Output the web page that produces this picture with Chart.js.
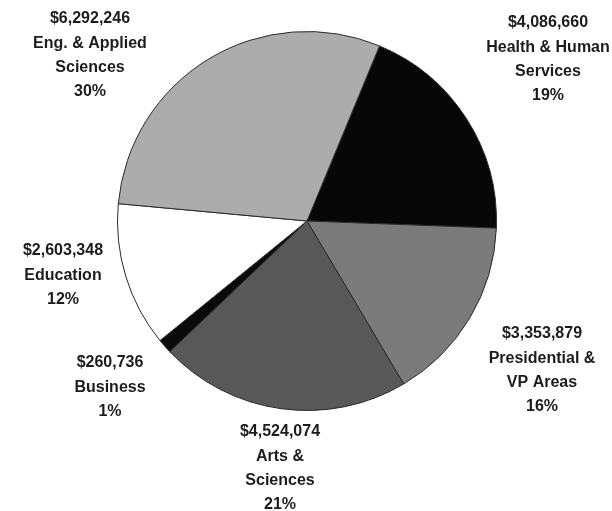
<!DOCTYPE html>
<html>
<head>
<meta charset="utf-8">
<script src="https://cdn.jsdelivr.net/npm/chart.js@4"></script>
<style>
  html, body { margin: 0; padding: 0; background: #fff; }
  #wrap { width: 612px; height: 511px; position: relative; }
  canvas { filter: blur(0.4px); }
</style>
</head>
<body>
<div id="wrap"><canvas id="pie" width="612" height="511"></canvas></div>
<script>
// ─── Données ────────────────────────────────────────────────────────────────
const categories = [
  ["Health & Human", "Services"],
  ["Presidential &", "VP Areas"],
  ["Arts &", "Sciences"],
  ["Business"],
  ["Education"],
  ["Eng. & Applied", "Sciences"],
];
const amounts = [4086660, 3353879, 4524074, 260736, 2603348, 6292246];
const sliceColors = ["#070707", "#7b7b7b", "#585858", "#0a0a0a", "#ffffff", "#acacac"];

// positions des blocs de texte (centre x, centre de la 1re ligne y)
const labelAnchors = [
  [548, 23], [542, 334], [280, 432], [110, 363], [63, 251], [90, 19],
];

const total = amounts.reduce((a, b) => a + b, 0);
const money = (v) => "$" + v.toLocaleString("en-US");

const sliceLabels = {
  id: "sliceLabels",
  afterDraw(chart) {
    const ctx = chart.ctx;
    ctx.save();
    ctx.font = "bold 16px 'Liberation Sans', Arial, sans-serif";
    ctx.fillStyle = "#1c1c1c";
    ctx.textAlign = "center";
    ctx.textBaseline = "middle";
    chart.getDatasetMeta(0).data.forEach((arc, i) => {
      const lines = [money(amounts[i]), ...categories[i], Math.round(amounts[i] / total * 100) + "%"];
      const [x, y] = labelAnchors[i];
      lines.forEach((ln, k) => ctx.fillText(ln, x, y + k * 24.3));
    });
    ctx.restore();
  },
};

new Chart(document.getElementById("pie"), {
  type: "pie",
  data: {
    labels: categories.map((c) => c.join(" ")),
    datasets: [{
      data: amounts,
      backgroundColor: sliceColors,
      borderColor: "#2a2a2a",
      borderWidth: 1,
      hoverOffset: 0,
    }],
  },
  options: {
    responsive: false,
    animation: false,
    events: [],
    rotation: 22.5,
    layout: { padding: { left: 117, right: 115, top: 31, bottom: 100 } },
    plugins: {
      legend: { display: false },
      tooltip: { enabled: false },
    },
  },
  plugins: [sliceLabels],
});
</script>
</body>
</html>
